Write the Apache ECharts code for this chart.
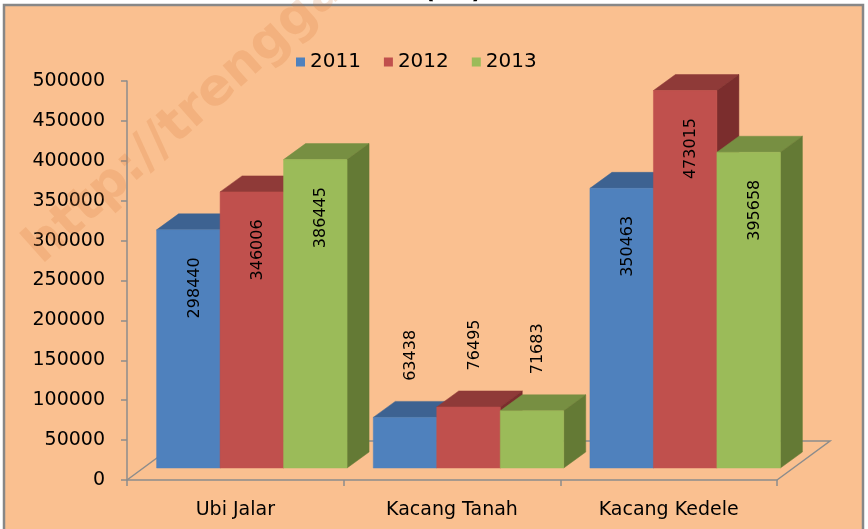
<!DOCTYPE html>
<html>
<head>
<meta charset="utf-8">
<script src="https://cdn.jsdelivr.net/npm/echarts@6/dist/echarts.min.js"></script>
<style>html,body{margin:0;padding:0;background:#fff}#c{width:868px;height:529px}</style>
</head>
<body>
<div id="c"></div>
<script>
const categories = ['Ubi Jalar', 'Kacang Tanah', 'Kacang Kedele'];
const years = ['2011', '2012', '2013'];
const values2011 = [298440, 63438, 350463];
const values2012 = [346006, 76495, 473015];
const values2013 = [386445, 71683, 395658];
const yMin = 0, yMax = 500000, yStep = 50000;

const seriesValues = [values2011, values2012, values2013];
const faceColors = [
  { front: '#4F81BD', top: '#3D6291', side: '#385D8A' },
  { front: '#C0504D', top: '#8F3A38', side: '#7B2D2D' },
  { front: '#9BBB59', top: '#778F42', side: '#647A35' }
];
const FONT = 'DejaVu Sans';
const SHIFT_X = 16.5, SHIFT_Y = -12;   // front face offset from axis plane
const DEPTH_X = 22, DEPTH_Y = -16;     // bar depth
const FLOOR_X = 53, FLOOR_Y = -39;     // floor depth
const BAR_RATIO = 0.293;

function makeBarRender(si) {
  return function (params, api) {
    const cat = api.value(0), val = api.value(1);
    const top = api.coord([cat, val]);
    const base = api.coord([cat, 0]);
    const band = api.size([1, 0])[0];
    const bw = band * BAR_RATIO;
    const x0 = top[0] - 1.5 * bw + si * bw + SHIFT_X;
    const x1 = x0 + bw;
    const yT = top[1] + SHIFT_Y;
    const yB = base[1] + SHIFT_Y;
    const c = faceColors[si];
    const children = [
      { type: 'polygon', shape: { points: [[x0, yT], [x1, yT], [x1 + DEPTH_X, yT + DEPTH_Y], [x0 + DEPTH_X, yT + DEPTH_Y]] },
        style: { fill: c.top, stroke: c.top, lineWidth: 0.5 } },
      { type: 'polygon', shape: { points: [[x1, yT], [x1 + DEPTH_X, yT + DEPTH_Y], [x1 + DEPTH_X, yB + DEPTH_Y], [x1, yB]] },
        style: { fill: c.side, stroke: c.side, lineWidth: 0.5 } },
      { type: 'rect', shape: { x: x0, y: yT, width: bw, height: yB - yT },
        style: { fill: c.front, stroke: c.front, lineWidth: 0.5 } }
    ];
    const h = yB - yT;
    const ly = h > 150 ? yT + 58 : yT - 62;
    children.push({
      type: 'text', x: (x0 + x1) / 2 + 6, y: ly, rotation: Math.PI / 2,
      style: { text: String(val), fill: '#000', font: '16px "' + FONT + '"', align: 'center', verticalAlign: 'middle' }
    });
    return { type: 'group', children: children };
  };
}

function floorRender(params, api) {
  const cs = params.coordSys;
  const fx = cs.x, fy = cs.y + cs.height, rx = cs.x + cs.width;
  const st = { stroke: '#8C8C8C', lineWidth: 1.5, fill: null };
  return {
    type: 'group', children: [
      { type: 'polyline', shape: { points: [[fx, fy], [fx + FLOOR_X, fy + FLOOR_Y], [rx + FLOOR_X, fy + FLOOR_Y], [rx, fy]] }, style: st }
    ]
  };
}

const series = [{
  type: 'custom', name: 'floor', renderItem: floorRender, data: [[0, 0]], z: 1, silent: true
}];
years.forEach(function (y, si) {
  series.push({
    type: 'custom', name: y, renderItem: makeBarRender(si),
    itemStyle: { color: faceColors[si].front },
    encode: { x: 0, y: 1 },
    data: seriesValues[si].map(function (v, i) { return [i, v]; }),
    z: 3
  });
});

const chart = echarts.init(document.getElementById('c'), null, { renderer: 'canvas' });
chart.setOption({
  animation: false,
  backgroundColor: '#ffffff',
  textStyle: { fontFamily: FONT },
  graphic: [
    { type: 'rect', z: -10, shape: { x: 4, y: 5, width: 859, height: 540 },
      style: { fill: '#FAC090', stroke: '#878787', lineWidth: 2.5 } },
    { type: 'text', z: 100, x: 453, y: 3.5,
      style: { text: '(Ha)', fill: '#000', font: 'bold 24px "' + FONT + '"', textAlign: 'center', textVerticalAlign: 'bottom' } },
    { type: 'text', z: 100, x: 50, y: 274, rotation: 0.73,
      style: { text: 'http://trenggalekkab.go.id', fill: 'rgba(214,120,56,0.2)', font: 'bold 51px "' + FONT + '"', textAlign: 'left', textVerticalAlign: 'bottom' } }
  ],
  legend: {
    data: years, top: 52, left: 296, padding: 0, icon: 'rect', itemWidth: 9, itemHeight: 9, itemGap: 23,
    textStyle: { fontSize: 20, color: '#000', fontFamily: FONT, lineHeight: 20 }
  },
  grid: { left: 127, right: 91, top: 81, bottom: 49 },
  xAxis: {
    type: 'category', data: categories,
    axisLine: { show: true, lineStyle: { color: '#8C8C8C', width: 1.5 } },
    axisTick: { show: true, length: 6, alignWithLabel: false, lineStyle: { color: '#8C8C8C', width: 1.5 } },
    axisLabel: { fontSize: 19, color: '#000', margin: 21, fontFamily: FONT },
    splitLine: { show: false }
  },
  yAxis: {
    type: 'value', min: yMin, max: yMax, interval: yStep,
    axisLine: { show: true, lineStyle: { color: '#8C8C8C', width: 1.5 } },
    axisTick: { show: true, length: 6, lineStyle: { color: '#8C8C8C', width: 1.5 } },
    axisLabel: { fontSize: 19, color: '#000', margin: 22, fontFamily: FONT, formatter: function (v) { return String(v); } },
    splitLine: { show: false }
  },
  series: series
});
</script>
</body>
</html>
